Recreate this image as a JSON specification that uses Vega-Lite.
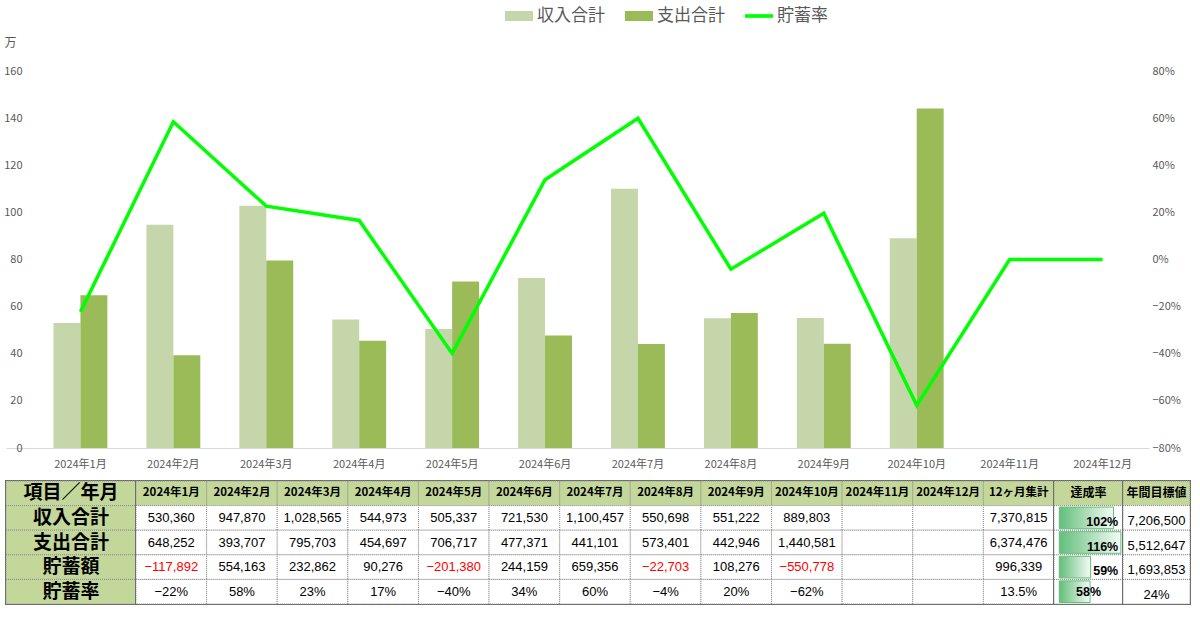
{
  "$schema": "https://vega.github.io/schema/vega-lite/v6.json",
  "padding": {"left": 3, "top": 2, "right": 5, "bottom": 5},
  "background": "white",
  "config": {
    "view": {"stroke": null},
    "font": "Noto Sans CJK JP",
    "axis": {"labelFont": "Noto Sans CJK JP", "labelColor": "#595959", "labelFontSize": 11}
  },
  "datasets": {
    "m": [
      {"月": "2024年1月", "収入合計": 53.036, "支出合計": 64.8252, "貯蓄率": -0.2223},
      {"月": "2024年2月", "収入合計": 94.787, "支出合計": 39.3707, "貯蓄率": 0.5846},
      {"月": "2024年3月", "収入合計": 102.8565, "支出合計": 79.5703, "貯蓄率": 0.2264},
      {"月": "2024年4月", "収入合計": 54.4973, "支出合計": 45.4697, "貯蓄率": 0.1657},
      {"月": "2024年5月", "収入合計": 50.5337, "支出合計": 70.6717, "貯蓄率": -0.3985},
      {"月": "2024年6月", "収入合計": 72.153, "支出合計": 47.7371, "貯蓄率": 0.3384},
      {"月": "2024年7月", "収入合計": 110.0457, "支出合計": 44.1101, "貯蓄率": 0.5992},
      {"月": "2024年8月", "収入合計": 55.0698, "支出合計": 57.3401, "貯蓄率": -0.0412},
      {"月": "2024年9月", "収入合計": 55.1222, "支出合計": 44.2946, "貯蓄率": 0.1964},
      {"月": "2024年10月", "収入合計": 88.9803, "支出合計": 144.0581, "貯蓄率": -0.619},
      {"月": "2024年11月", "収入合計": null, "支出合計": null, "貯蓄率": 0},
      {"月": "2024年12月", "収入合計": null, "支出合計": null, "貯蓄率": 0}
    ],
    "rows": [
      {"r": "項目／年月"}, {"r": "収入合計"}, {"r": "支出合計"}, {"r": "貯蓄額"}, {"r": "貯蓄率"}
    ],
    "tb": [
      {"r": "項目／年月", "2024年1月": "2024年1月", "2024年2月": "2024年2月", "2024年3月": "2024年3月", "2024年4月": "2024年4月", "2024年5月": "2024年5月", "2024年6月": "2024年6月", "2024年7月": "2024年7月", "2024年8月": "2024年8月", "2024年9月": "2024年9月", "2024年10月": "2024年10月", "2024年11月": "2024年11月", "2024年12月": "2024年12月", "12ヶ月集計": "12ヶ月集計"},
      {"r": "収入合計", "2024年1月": "530,360", "2024年2月": "947,870", "2024年3月": "1,028,565", "2024年4月": "544,973", "2024年5月": "505,337", "2024年6月": "721,530", "2024年7月": "1,100,457", "2024年8月": "550,698", "2024年9月": "551,222", "2024年10月": "889,803", "2024年11月": "", "2024年12月": "", "12ヶ月集計": "7,370,815"},
      {"r": "支出合計", "2024年1月": "648,252", "2024年2月": "393,707", "2024年3月": "795,703", "2024年4月": "454,697", "2024年5月": "706,717", "2024年6月": "477,371", "2024年7月": "441,101", "2024年8月": "573,401", "2024年9月": "442,946", "2024年10月": "1,440,581", "2024年11月": "", "2024年12月": "", "12ヶ月集計": "6,374,476"},
      {"r": "貯蓄額", "2024年1月": "−117,892", "2024年2月": "554,163", "2024年3月": "232,862", "2024年4月": "90,276", "2024年5月": "−201,380", "2024年6月": "244,159", "2024年7月": "659,356", "2024年8月": "−22,703", "2024年9月": "108,276", "2024年10月": "−550,778", "2024年11月": "", "2024年12月": "", "12ヶ月集計": "996,339"},
      {"r": "貯蓄率", "2024年1月": "−22%", "2024年2月": "58%", "2024年3月": "23%", "2024年4月": "17%", "2024年5月": "−40%", "2024年6月": "34%", "2024年7月": "60%", "2024年8月": "−4%", "2024年9月": "20%", "2024年10月": "−62%", "2024年11月": "", "2024年12月": "", "12ヶ月集計": "13.5%"}
    ],
    "ach": [
      {"r": "項目／年月", "v": null, "t": "達成率"},
      {"r": "収入合計", "v": 1.02, "t": "102%"},
      {"r": "支出合計", "v": 1.16, "t": "116%"},
      {"r": "貯蓄額", "v": 0.59, "t": "59%"},
      {"r": "貯蓄率", "v": 0.58, "t": "58%"}
    ],
    "goal": [
      {"r": "項目／年月", "t": "年間目標値"},
      {"r": "収入合計", "t": "7,206,500"},
      {"r": "支出合計", "t": "5,512,647"},
      {"r": "貯蓄額", "t": "1,693,853"},
      {"r": "貯蓄率", "t": "24%"}
    ]
  },
  "columns": 1,
  "spacing": 10,
  "concat": [
    {
      "width": 1143,
      "height": 377,
      "data": {"name": "m"},
      "layer": [
        {
          "transform": [{"fold": ["収入合計", "支出合計"], "as": ["k", "v"]}],
          "mark": {"type": "bar"},
          "encoding": {
            "x": {"field": "月", "type": "nominal", "sort": null,
              "scale": {"paddingInner": 0.42, "paddingOuter": 0.3605, "align": 0.709},
              "axis": {"title": null, "labelAngle": 0, "ticks": false, "domainColor": "#d9d9d9", "labelPadding": 10}},
            "xOffset": {"field": "k", "type": "nominal", "sort": ["収入合計", "支出合計"]},
            "y": {"field": "v", "type": "quantitative", "scale": {"domain": [0, 160]},
              "axis": {"orient": "left", "offset": -18, "values": [0, 20, 40, 60, 80, 100, 120, 140, 160], "grid": false, "domain": false, "ticks": false, "labelPadding": 2,
                "title": "万", "titleAngle": 0, "titleX": -20, "titleY": -29, "titleAlign": "left", "titleBaseline": "middle", "titleFontSize": 12, "titleFontWeight": "normal", "titleColor": "#595959", "titleFont": "Noto Sans CJK JP"}},
            "color": {"field": "k", "type": "nominal",
              "scale": {"domain": ["収入合計", "支出合計", "貯蓄率"], "range": ["#c5d7aa", "#9bbb59", "#00ff00"]},
              "legend": {"orient": "none", "legendX": 499, "legendY": -69, "direction": "horizontal", "title": null,
                "labelFontSize": 17, "labelColor": "#595959", "labelFont": "Noto Sans CJK JP", "symbolSize": 784, "columnPadding": 20, "labelOffset": 4,
                "encode": {"symbols": {"update": {
                  "shape": {"signal": "datum.value === '貯蓄率' ? 'M-1,-0.13H1V0.13H-1Z' : 'M-1,-0.36H1V0.36H-1Z'"},
                  "fill": {"signal": "datum.value === '貯蓄率' ? '#00ff00' : (datum.value === '収入合計' ? '#c5d7aa' : '#9bbb59')"},
                  "strokeWidth": {"value": 0},
                  "opacity": {"value": 1}
                }}}}}
          }
        },
        {
          "mark": {"type": "line", "strokeWidth": 3.5},
          "encoding": {
            "x": {"field": "月", "type": "nominal", "sort": null},
            "y": {"field": "貯蓄率", "type": "quantitative", "scale": {"domain": [-0.8, 0.8]},
              "axis": {"orient": "right", "format": ".0%", "values": [-0.8, -0.6, -0.4, -0.2, 0, 0.2, 0.4, 0.6, 0.8], "grid": false, "domain": false, "ticks": false, "labelPadding": 3, "title": null}},
            "color": {"datum": "貯蓄率"}
          }
        }
      ],
      "resolve": {"scale": {"y": "independent"}}
    },
    {
      "spacing": 0,
      "bounds": "flush",
      "hconcat": [
        {
          "width": 130,
          "height": 123,
          "view": {"stroke": "#666666", "strokeWidth": 2},
          "data": {"name": "rows"},
          "encoding": {"y": {"field": "r", "type": "nominal", "sort": null, "axis": null, "scale": {"paddingInner": 0, "paddingOuter": 0}}},
          "layer": [
            {"mark": {"type": "rect", "fill": "#c4d79b", "stroke": "#8c8c8c", "strokeDash": [1, 1], "strokeWidth": 1}},
            {"mark": {"type": "text", "fontSize": 19, "fontWeight": "bold", "color": "#000000", "font": "Noto Sans CJK JP"}, "encoding": {"text": {"field": "r"}}}
          ]
        },
        {
          "width": 918,
          "height": 123,
          "view": {"stroke": "#666666", "strokeWidth": 2},
          "data": {"name": "tb"},
          "transform": [{"fold": ["2024年1月", "2024年2月", "2024年3月", "2024年4月", "2024年5月", "2024年6月", "2024年7月", "2024年8月", "2024年9月", "2024年10月", "2024年11月", "2024年12月", "12ヶ月集計"], "as": ["c", "t"]}],
          "encoding": {
            "x": {"field": "c", "type": "nominal", "sort": null, "axis": null, "scale": {"paddingInner": 0, "paddingOuter": 0}},
            "y": {"field": "r", "type": "nominal", "sort": null, "axis": null, "scale": {"paddingInner": 0, "paddingOuter": 0}}
          },
          "layer": [
            {"mark": {"type": "rect", "stroke": "#8c8c8c", "strokeDash": [1, 1], "strokeWidth": 1},
             "encoding": {"color": {"condition": {"test": "datum.r === '項目／年月'", "value": "#c4d79b"}, "value": "#ffffff"}}},
            {"transform": [{"filter": "datum.r === '項目／年月'"}],
             "mark": {"type": "text", "fontSize": 11.5, "fontWeight": "bold", "color": "#000000", "font": "Noto Sans CJK JP"},
             "encoding": {"text": {"field": "t"}}},
            {"transform": [{"filter": "datum.r !== '項目／年月'"}],
             "mark": {"type": "text", "fontSize": 13, "font": "Liberation Sans"},
             "encoding": {"text": {"field": "t"},
               "color": {"condition": {"test": "datum.r === '貯蓄額' && indexof(datum.t, '−') === 0", "value": "#ff0000"}, "value": "#000000"}}}
          ]
        },
        {
          "width": 69,
          "height": 123,
          "view": {"stroke": "#666666", "strokeWidth": 2},
          "data": {"name": "ach"},
          "encoding": {"y": {"field": "r", "type": "nominal", "sort": null, "axis": null, "scale": {"paddingInner": 0, "paddingOuter": 0}}},
          "layer": [
            {"mark": {"type": "rect", "stroke": "#8c8c8c", "strokeDash": [1, 1], "strokeWidth": 1},
             "encoding": {"color": {"condition": {"test": "datum.r === '項目／年月'", "value": "#c4d79b"}, "value": "#ffffff"}}},
            {"transform": [{"filter": "isValid(datum.v)"}],
             "mark": {"type": "bar", "height": {"band": 0.88}, "stroke": "#63be7b", "strokeWidth": 1,
               "color": {"gradient": "linear", "x1": 0, "x2": 1, "y1": 0, "y2": 0, "stops": [{"offset": 0, "color": "#63be7b"}, {"offset": 1, "color": "#f4fbf6"}]}},
             "encoding": {"x": {"field": "v", "type": "quantitative", "scale": {"domain": [-0.015, 1.2]}, "axis": null}, "x2": {"datum": 0}}},
            {"transform": [{"filter": "datum.r === '項目／年月'"}],
             "mark": {"type": "text", "fontSize": 12, "fontWeight": "bold", "color": "#000000", "font": "Noto Sans CJK JP"},
             "encoding": {"text": {"field": "t"}}},
            {"transform": [{"filter": "datum.r === '収入合計' || datum.r === '支出合計' || datum.r === '貯蓄額'"}],
             "mark": {"type": "text", "fontSize": 12.5, "fontWeight": "bold", "align": "right", "dy": 4, "color": "#000000", "font": "Liberation Sans"},
             "encoding": {"text": {"field": "t"}, "x": {"datum": 1.11}}},
            {"transform": [{"filter": "datum.r === '貯蓄率'"}],
             "mark": {"type": "text", "fontSize": 12.5, "fontWeight": "bold", "color": "#000000", "font": "Liberation Sans"},
             "encoding": {"text": {"field": "t"}}}
          ]
        },
        {
          "width": 67,
          "height": 123,
          "view": {"stroke": "#666666", "strokeWidth": 2},
          "data": {"name": "goal"},
          "encoding": {"y": {"field": "r", "type": "nominal", "sort": null, "axis": null, "scale": {"paddingInner": 0, "paddingOuter": 0}}},
          "layer": [
            {"mark": {"type": "rect", "stroke": "#8c8c8c", "strokeDash": [1, 1], "strokeWidth": 1},
             "encoding": {"color": {"condition": {"test": "datum.r === '項目／年月'", "value": "#c4d79b"}, "value": "#ffffff"}}},
            {"transform": [{"filter": "datum.r === '項目／年月'"}],
             "mark": {"type": "text", "fontSize": 12, "fontWeight": "bold", "color": "#000000", "font": "Noto Sans CJK JP"},
             "encoding": {"text": {"field": "t"}}},
            {"transform": [{"filter": "datum.r !== '項目／年月'"}],
             "mark": {"type": "text", "fontSize": 13, "dy": 3, "color": "#000000", "font": "Liberation Sans"},
             "encoding": {"text": {"field": "t"}}}
          ]
        }
      ]
    }
  ]
}
